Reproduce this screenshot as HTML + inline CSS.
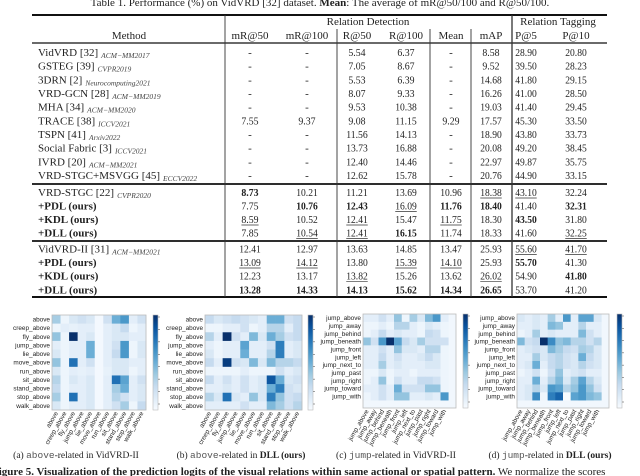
<!DOCTYPE html>
<html><head><meta charset="utf-8"><style>
html,body{margin:0;padding:0;background:#fff;width:640px;height:476px;overflow:hidden}
svg{display:block}
</style></head><body>
<svg id="fig" width="640" height="476" viewBox="0 0 640 476" xmlns="http://www.w3.org/2000/svg" font-family="Liberation Serif, serif">
<text x="320" y="6" font-size="11" text-anchor="middle" fill="#222">Table 1. Performance (%) on VidVRD [32] dataset. <tspan font-weight="bold">Mean</tspan>: The average of mR@50/100 and R@50/100.</text>
<g id="table"></g>
<g id="maps"></g>
<text x="76" y="458" font-size="9.5" text-anchor="middle" fill="#222">(a) <tspan font-family="Liberation Mono, monospace" fill="#555">above</tspan>-related in VidVRD-II</text>
<text x="241" y="458" font-size="9.5" text-anchor="middle" fill="#222">(b) <tspan font-family="Liberation Mono, monospace" fill="#555">above</tspan>-related in <tspan font-weight="bold">DLL (ours)</tspan></text>
<text x="396" y="458" font-size="9.5" text-anchor="middle" fill="#222">(c) <tspan font-family="Liberation Mono, monospace" fill="#555">jump</tspan>-related in VidVRD-II</text>
<text x="550" y="458" font-size="9.5" text-anchor="middle" fill="#222">(d) <tspan font-family="Liberation Mono, monospace" fill="#555">jump</tspan>-related in <tspan font-weight="bold">DLL (ours)</tspan></text>
<text x="-8" y="475" font-size="11" fill="#222"><tspan font-weight="bold">Figure 5. Visualization of the prediction logits of the visual relations within same actional or spatial pattern.</tspan> We normalize the scores</text>
</svg>
<script>
const NS='http://www.w3.org/2000/svg';
function mk(tag,attrs,parent){const e=document.createElementNS(NS,tag);for(const k in attrs)e.setAttribute(k,attrs[k]);parent.appendChild(e);return e;}

// ---------- table data ----------
const methods=[
 ["VidVRD [32]","ACM−MM2017"],["GSTEG [39]","CVPR2019"],["3DRN [2]","Neurocomputing2021"],["VRD-GCN [28]","ACM−MM2019"],
 ["MHA [34]","ACM−MM2020"],["TRACE [38]","ICCV2021"],["TSPN [41]","Arxiv2022"],["Social Fabric [3]","ICCV2021"],
 ["IVRD [20]","ACM−MM2021"],["VRD-STGC+MSVGG [45]","ECCV2022"],
 ["VRD-STGC [22]","CVPR2020"],["*+PDL (ours)",""],["*+KDL (ours)",""],["*+DLL (ours)",""],
 ["VidVRD-II [31]","ACM−MM2021"],["*+PDL (ours)",""],["*+KDL (ours)",""],["*+DLL (ours)",""]];
const values=[
 ["-","-","5.54","6.37","-","8.58","28.90","20.80"],
 ["-","-","7.05","8.67","-","9.52","39.50","28.23"],
 ["-","-","5.53","6.39","-","14.68","41.80","29.15"],
 ["-","-","8.07","9.33","-","16.26","41.00","28.50"],
 ["-","-","9.53","10.38","-","19.03","41.40","29.45"],
 ["7.55","9.37","9.08","11.15","9.29","17.57","45.30","33.50"],
 ["-","-","11.56","14.13","-","18.90","43.80","33.73"],
 ["-","-","13.73","16.88","-","20.08","49.20","38.45"],
 ["-","-","12.40","14.46","-","22.97","49.87","35.75"],
 ["-","-","12.62","15.78","-","20.76","44.90","33.15"],
 ["*8.73","10.21","11.21","13.69","10.96","_18.38","_43.10","32.24"],
 ["7.75","*10.76","*12.43","_16.09","*11.76","*18.40","41.40","*32.31"],
 ["_8.59","10.52","_12.41","15.47","_11.75","18.30","*43.50","31.80"],
 ["7.85","_10.54","_12.41","*16.15","11.74","18.33","41.60","_32.25"],
 ["12.41","12.97","13.63","14.85","13.47","25.93","_55.60","_41.70"],
 ["_13.09","_14.12","13.80","_15.39","_14.10","25.93","*55.70","41.30"],
 ["12.23","13.17","_13.82","15.26","13.62","_26.02","54.90","*41.80"],
 ["*13.28","*14.33","*14.13","*15.62","*14.34","*26.65","53.70","41.20"]];
const headers=["mR@50","mR@100","R@50","R@100","Mean","mAP","P@5","P@10"];

const T=document.getElementById('table');
const colX=[250,307,357,406,451,491,526,576];
const rowY=[52,65.7,79.4,93,106.7,120.4,134,147.7,161.4,175,192,205.5,219,232.5,248.5,262,275.7,289.3];
mk('line',{x1:32,x2:607,y1:15,y2:15,stroke:'#111','stroke-width':2},T);
mk('line',{x1:32,x2:607,y1:43,y2:43,stroke:'#111','stroke-width':1.2},T);
mk('line',{x1:32,x2:607,y1:184,y2:184,stroke:'#111','stroke-width':1.8},T);
mk('line',{x1:32,x2:607,y1:241,y2:241,stroke:'#111','stroke-width':1.8},T);
mk('line',{x1:32,x2:607,y1:297,y2:297,stroke:'#111','stroke-width':2},T);
[[225,15,297],[512,15,297],[337,29,297],[430,29,297],[471,29,297]].forEach(v=>{
 const l=mk('line',{x1:v[0],x2:v[0],y1:v[1],y2:v[2],stroke:'#333','stroke-width':v[0]==512?1.3:0.9},T);
 
});
let h=mk('text',{x:129,y:39,'font-size':11,'text-anchor':'middle',fill:'#222'},T);h.textContent='Method';

h=mk('text',{x:368,y:25,'font-size':11,'text-anchor':'middle',fill:'#222'},T);h.textContent='Relation Detection';

h=mk('text',{x:558,y:25,'font-size':11,'text-anchor':'middle',fill:'#222'},T);h.textContent='Relation Tagging';

headers.forEach((t,i)=>{const e=mk('text',{x:colX[i],y:39,'font-size':11,'text-anchor':'middle',fill:'#222'},T);e.textContent=t;
 
 });
methods.forEach((m,r)=>{
 const y=rowY[r]+4;
 let name=m[0],bold=false;if(name[0]=='*'){bold=true;name=name.slice(1);}
 const e=mk('text',{x:38,y:y,'font-size':11,fill:'#222'},T);
 
 
 if(bold)e.setAttribute('font-weight','bold');
 const t1=mk('tspan',{},e);t1.textContent=name;
 if(m[1]){const t2=mk('tspan',{'font-size':7.5,'font-style':'italic',dy:2,dx:3,fill:'#444'},e);t2.textContent=m[1];}
 values[r].forEach((v,c)=>{
  let s=v,b=false,u=false;if(s[0]=='*'){b=true;s=s.slice(1);}if(s[0]=='_'){u=true;s=s.slice(1);}
  const t=mk('text',{x:colX[c],y:y,'font-size':11,'text-anchor':'middle',fill:'#222'},T);
  
  
  if(b)t.setAttribute('font-weight','bold');
  t.textContent=s;
  const w=s.length*4.3;
  if(s.length>1){t.setAttribute('textLength',w);t.setAttribute('lengthAdjust','spacingAndGlyphs');}
  if(u){mk('line',{x1:colX[c]-w/2,x2:colX[c]+w/2,y1:y+2,y2:y+2,stroke:'#333','stroke-width':0.7},T);}
 });
});

// ---------- heatmap data ----------
const aboveLabels=["above","creep_above","fly_above","jump_above","lie_above","move_above","run_above","sit_above","stand_above","stop_above","walk_above"];
const jumpLabels=["jump_above","jump_away","jump_behind","jump_beneath","jump_front","jump_left","jump_next_to","jump_past","jump_right","jump_toward","jump_with"];
const mapA=[
[.35,.05,.15,.2,.15,.02,.2,.5,.6,.1,.2],
[.05,.1,.08,.1,.1,.02,.1,.15,.25,.05,.1],
[.4,.05,1.0,.1,.15,.02,.1,.15,.15,.1,.1],
[.1,.05,.1,.1,.5,.02,.1,.2,.6,.05,.15],
[.15,.05,.1,.1,.5,.02,.1,.25,.6,.05,.15],
[.4,.05,.75,.1,.2,.02,.1,.15,.15,.1,.1],
[.15,.05,.1,.08,.1,.02,.08,.15,.15,.05,.1],
[.3,.05,.15,.1,.15,.02,.1,.75,.55,.1,.2],
[.25,.05,.1,.1,.15,.02,.1,.35,.5,.1,.15],
[.35,.05,.75,.1,.15,.02,.1,.3,.2,.1,.15],
[.15,.05,.1,.1,.15,.02,.1,.2,.35,.05,.25]];
const mapB=[
[.25,.15,.2,.25,.2,.15,.1,.5,.5,.2,.25],
[.05,.05,.1,.1,.2,.05,.1,.3,.3,.1,.25],
[.3,.1,1,.2,.1,.45,.15,.5,.35,.2,.25],
[.1,.05,.1,.1,.55,.1,.1,.2,.7,.1,.15],
[.15,.05,.1,.1,.5,.1,.1,.3,.7,.1,.15],
[.25,.1,.95,.2,.15,.45,.15,.45,.3,.3,.25],
[.05,.05,.05,.05,.1,.05,.05,.05,.2,.1,.15],
[.25,.1,.2,.1,.2,.1,.15,.85,.5,.15,.2],
[.1,.1,.15,.1,.2,.1,.15,.5,.7,.2,.15],
[.3,.15,.75,.15,.1,.4,.15,.7,.4,.2,.25],
[.1,.1,.1,.1,.2,.1,.1,.45,.35,.2,.3]];
const mapC=[
[.1,.1,.2,.1,.4,.05,.35,.15,.45,.6,.1],
[.05,.05,.1,.05,.3,.3,.1,.05,.15,.1,.05],
[.05,.1,.25,.1,.15,.1,.1,.05,.25,.2,.05],
[.4,.2,.6,1.0,.55,.25,.15,.35,.2,.2,.2],
[.1,.1,.2,.1,.4,.15,.15,.1,.3,.3,.05],
[.1,.1,.25,.1,.2,.1,.1,.15,.25,.15,.05],
[.1,.1,.35,.1,.15,.1,.1,.1,.15,.15,.05],
[.05,.05,.15,.05,.1,.1,.05,.1,.1,.1,.05],
[.05,.1,.4,.05,.2,.1,.1,.25,.25,.2,.05],
[.1,.1,.2,.1,.5,.2,.2,.2,.4,.4,.05],
[.05,.1,.2,.1,.4,.4,.1,.1,.15,.1,.6]];
const mapD=[
[.15,.1,.15,.1,.35,.1,.6,.1,.55,.55,.15],
[.1,.1,.15,.1,.45,.4,.1,.1,.3,.1,.1],
[.05,.1,.35,.1,.15,.1,.1,.1,.45,.2,.1],
[.45,.2,.25,1.0,.65,.4,.45,.3,.3,.2,.3],
[.1,.15,.2,.15,.45,.35,.25,.2,.35,.3,.15],
[.1,.1,.35,.15,.25,.3,.2,.15,.5,.25,.15],
[.1,.15,.5,.1,.25,.3,.2,.15,.3,.2,.15],
[.05,.1,.2,.05,.2,.4,.1,.15,.2,.1,.1],
[.1,.1,.5,.1,.3,.45,.15,.35,.55,.3,.15],
[.1,.15,.3,.15,.6,.55,.3,.4,.6,.4,.2],
[.1,.15,.65,.05,.7,.8,0,.55,.6,.45,.4]];

const stops=[[247,251,255],[222,235,247],[198,219,239],[158,202,225],[107,174,214],[66,146,198],[33,113,181],[8,81,156],[8,48,107]];
function blues(v){v=Math.max(0,Math.min(1,v));const p=v*(stops.length-1);const i=Math.min(Math.floor(p),stops.length-2);const f=p-i;
 const c=stops[i].map((a,k)=>Math.round(a+(stops[i+1][k]-a)*f));return 'rgb('+c.join(',')+')';}

const M=document.getElementById('maps');
const panels=[
 {id:'a',data:mapA,labels:aboveLabels,x0:52,x1:146,y0:315,y1:410,cb:153,rows:11},
 {id:'b',data:mapB,labels:aboveLabels,x0:205,x1:302,y0:315,y1:410,cb:308,rows:11},
 {id:'c',data:mapC,labels:jumpLabels,x0:363,x1:456,y0:314,y1:408,cb:463,rows:12},
 {id:'d',data:mapD,labels:jumpLabels,x0:517,x1:609,y0:314,y1:408,cb:617,rows:12}];
panels.forEach(p=>{
 const g=mk('g',{},M);
 
 
 const nC=p.labels.length+(p.rows-11);
 const cw=(p.x1-p.x0)/nC, ch=(p.y1-p.y0)/p.rows;
 mk('rect',{x:p.x0,y:p.y0,width:p.x1-p.x0,height:p.y1-p.y0,fill:blues(0.03)},g);
 p.data.forEach((row,r)=>row.forEach((v,c)=>{
  const cell=mk('rect',{x:p.x0+c*cw,y:p.y0+r*ch,width:cw+0.3,height:ch+0.3,fill:blues(v)},g);
  
  
 }));
 mk('rect',{x:p.x0,y:p.y0,width:p.x1-p.x0,height:p.y1-p.y0,fill:'none',stroke:'#bbb','stroke-width':0.8},g);
 p.labels.forEach((l,i)=>{
  const yl=mk('text',{x:p.x0-2,y:p.y0+(i+0.5)*ch+2.2,'font-size':6.4,'text-anchor':'end',fill:'#222','font-family':'Liberation Sans, sans-serif'},g);
  yl.textContent=l;
  
  
  const xx=p.x0+(i+0.5)*cw+2, yy=p.y1+3;
  const xl=mk('text',{x:xx,y:yy,'font-size':6.4,'text-anchor':'end',fill:'#222','font-family':'Liberation Sans, sans-serif',transform:'rotate(-60 '+xx+' '+yy+')'},g);
  xl.textContent=l;
  
  
 });
 const defs=mk('defs',{},g);
 const lg=mk('linearGradient',{id:'cb'+p.id,x1:0,y1:1,x2:0,y2:0},defs);
 stops.forEach((s,i)=>mk('stop',{offset:i/(stops.length-1),'stop-color':'rgb('+s.join(',')+')'},lg));
 const cb=mk('rect',{x:p.cb,y:p.y0,width:5,height:p.y1-p.y0,fill:'url(#cb'+p.id+')',stroke:'#bbb','stroke-width':0.6},g);
 
 
 for(let k=0;k<8;k++){const ty=p.y1-6-k*(p.y1-p.y0-8)/7;mk('line',{x1:p.cb+5,x2:p.cb+7,y1:ty,y2:ty,stroke:'#444','stroke-width':0.5},g);}
});
</script>
</body></html>
